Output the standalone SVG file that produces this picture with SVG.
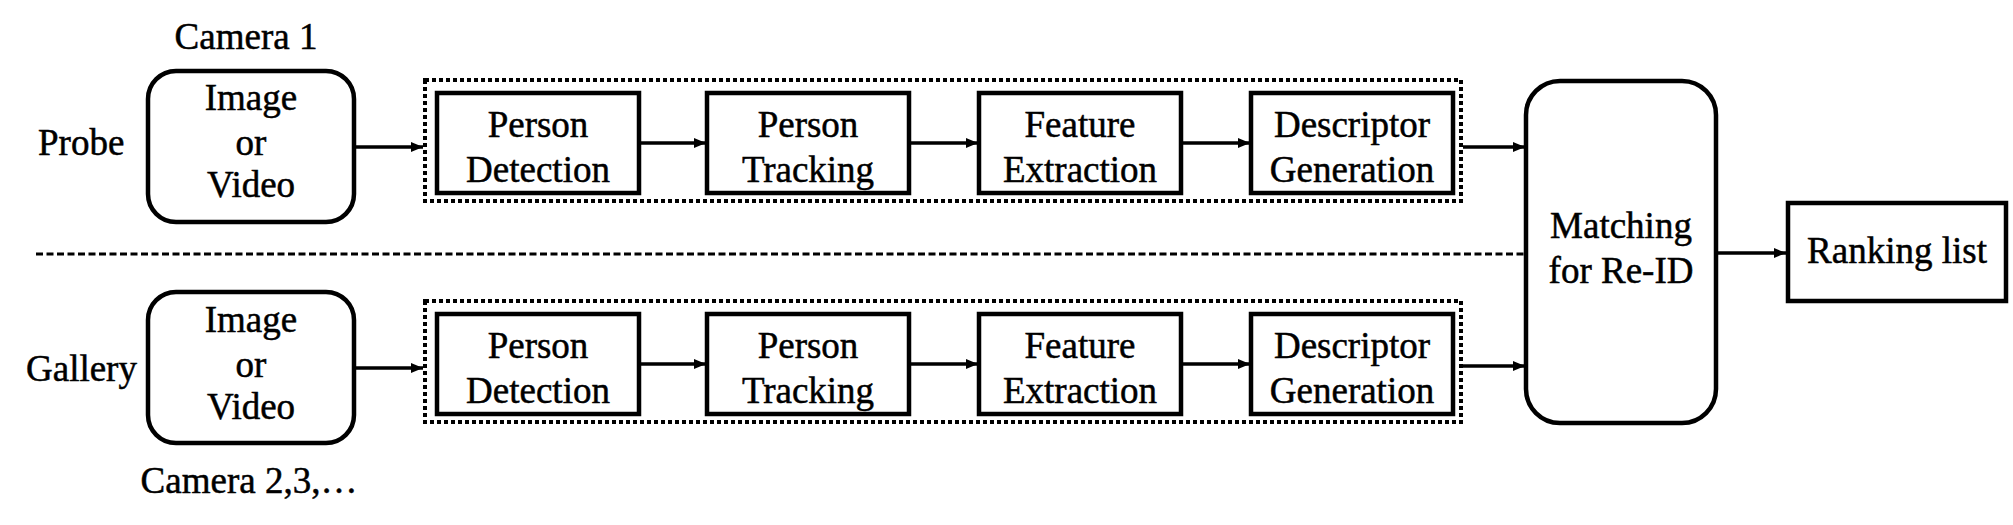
<svg xmlns="http://www.w3.org/2000/svg" width="2013" height="525" viewBox="0 0 2013 525">
<style>
text{font-family:'Liberation Serif','Times New Roman',serif;font-size:37px;fill:#000;stroke:#000;stroke-width:0.5;text-anchor:middle}
.lbl{text-anchor:start}
.box{fill:#fff;stroke:#000;stroke-width:4.5}
.dot{fill:none;stroke:#000;stroke-width:4;stroke-dasharray:4 3}
.ln{fill:none;stroke:#000;stroke-width:3.5}
.dash{fill:none;stroke:#000;stroke-width:3;stroke-dasharray:7 3.5}
</style>
<defs>
<marker id="ah" markerUnits="userSpaceOnUse" markerWidth="12" markerHeight="12" refX="12" refY="6" orient="auto">
<path d="M0,1 L12,6 L0,11 Z" fill="#000"/>
</marker>
</defs>
<rect width="2013" height="525" fill="#fff"/>
<g id="connectors">
<line class="dash" x1="36" y1="254" x2="1526" y2="254"/>
<line class="ln" x1="356" y1="147" x2="423" y2="147" marker-end="url(#ah)"/>
<line class="ln" x1="639" y1="143" x2="706" y2="143" marker-end="url(#ah)"/>
<line class="ln" x1="909" y1="143" x2="978" y2="143" marker-end="url(#ah)"/>
<line class="ln" x1="1181" y1="143" x2="1250" y2="143" marker-end="url(#ah)"/>
<line class="ln" x1="1463" y1="147" x2="1525" y2="147" marker-end="url(#ah)"/>
<line class="ln" x1="356" y1="368" x2="423" y2="368" marker-end="url(#ah)"/>
<line class="ln" x1="639" y1="364" x2="706" y2="364" marker-end="url(#ah)"/>
<line class="ln" x1="909" y1="364" x2="978" y2="364" marker-end="url(#ah)"/>
<line class="ln" x1="1181" y1="364" x2="1250" y2="364" marker-end="url(#ah)"/>
<line class="ln" x1="1463" y1="366" x2="1525" y2="366" marker-end="url(#ah)"/>
<line class="ln" x1="1718" y1="253" x2="1786" y2="253" marker-end="url(#ah)"/>
</g>
<g id="probe-label"><text class="lbl" x="38" y="155">Probe</text></g>
<g id="camera1-label"><text x="246" y="49">Camera 1</text></g>
<g id="probe-input">
<rect class="box" x="148" y="71" width="206" height="151" rx="28"/>
<text x="251" y="110">Image</text><text x="251" y="155">or</text><text x="251" y="197">Video</text>
</g>
<g id="probe-pipeline"><rect class="dot" x="425" y="80" width="1036" height="121"/></g>
<g id="probe-detection"><rect class="box" x="437" y="93" width="202" height="100"/><text x="538" y="137">Person</text><text x="538" y="182">Detection</text></g>
<g id="probe-tracking"><rect class="box" x="707" y="93" width="202" height="100"/><text x="808" y="137">Person</text><text x="808" y="182">Tracking</text></g>
<g id="probe-feature"><rect class="box" x="979" y="93" width="202" height="100"/><text x="1080" y="137">Feature</text><text x="1080" y="182">Extraction</text></g>
<g id="probe-descriptor"><rect class="box" x="1251" y="93" width="202" height="100"/><text x="1352" y="137">Descriptor</text><text x="1352" y="182">Generation</text></g>
<g id="gallery-label"><text class="lbl" x="26" y="381">Gallery</text></g>
<g id="camera23-label"><text x="249" y="493">Camera 2,3,…</text></g>
<g id="gallery-input">
<rect class="box" x="148" y="292" width="206" height="151" rx="28"/>
<text x="251" y="332">Image</text><text x="251" y="377">or</text><text x="251" y="419">Video</text>
</g>
<g id="gallery-pipeline"><rect class="dot" x="425" y="301" width="1036" height="121"/></g>
<g id="gallery-detection"><rect class="box" x="437" y="314" width="202" height="100"/><text x="538" y="358">Person</text><text x="538" y="403">Detection</text></g>
<g id="gallery-tracking"><rect class="box" x="707" y="314" width="202" height="100"/><text x="808" y="358">Person</text><text x="808" y="403">Tracking</text></g>
<g id="gallery-feature"><rect class="box" x="979" y="314" width="202" height="100"/><text x="1080" y="358">Feature</text><text x="1080" y="403">Extraction</text></g>
<g id="gallery-descriptor"><rect class="box" x="1251" y="314" width="202" height="100"/><text x="1352" y="358">Descriptor</text><text x="1352" y="403">Generation</text></g>
<g id="matching"><rect class="box" x="1526" y="81" width="190" height="342" rx="34"/><text x="1621" y="238">Matching</text><text x="1621" y="283">for Re-ID</text></g>
<g id="ranking"><rect class="box" x="1788" y="203" width="218" height="98"/><text x="1897" y="263">Ranking list</text></g>
</svg>
